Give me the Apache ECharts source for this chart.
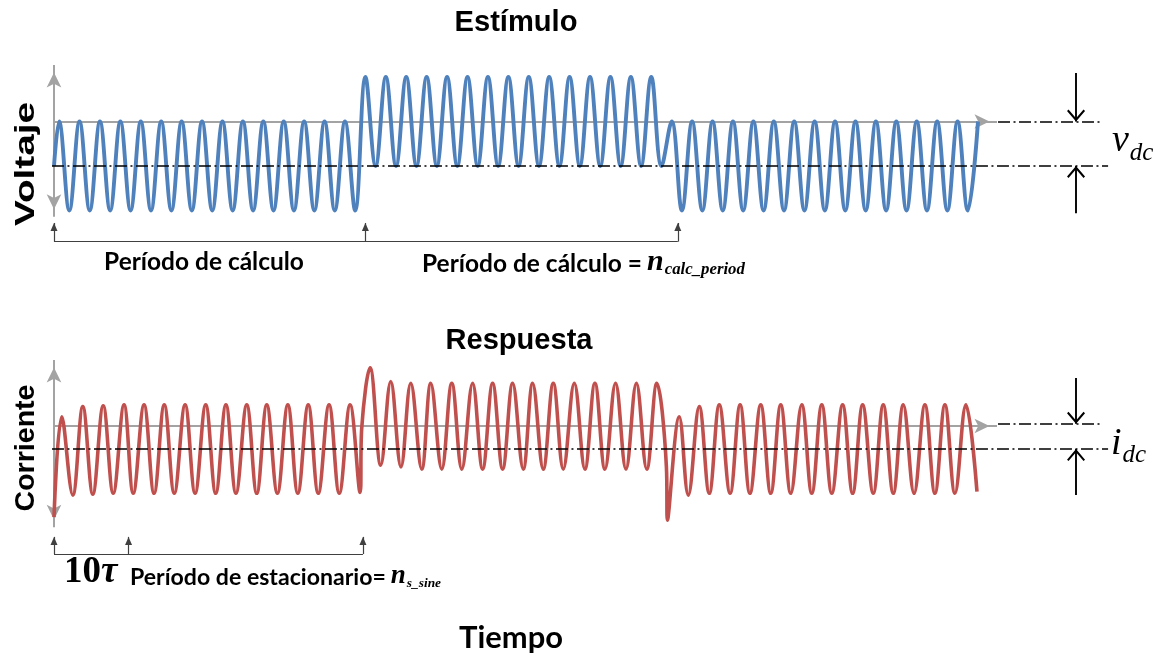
<!DOCTYPE html>
<html><head><meta charset="utf-8">
<script src="https://cdn.jsdelivr.net/npm/echarts@6/dist/echarts.min.js"></script>
<style>html,body{margin:0;padding:0;background:#fff}#c{width:1158px;height:655px}</style>
</head><body><div id="c"></div>
<script>
// ---- Stimulus (voltage), time in cycles, value in units of the AC amplitude (vdc = 1) ----
const stimStart = [[0, -1]];
const stimSeg1T = [0.25,0.75,1.25,1.75,2.25,2.75,3.25,3.75,4.25,4.75,5.25,5.75,6.25,6.75,7.25,7.75,8.25,8.75,9.25,9.75,10.25,10.75,11.25,11.75,12.25,12.75,13.25,13.75,14.25,14.75];
const stimSeg1V = [0,-2,0,-2,0,-2,0,-2,0,-2,0,-2,0,-2,0,-2,0,-2,0,-2,0,-2,0,-2,0,-2,0,-2,0,-2];
const stimSeg2T = [15.25,15.75,16.25,16.75,17.25,17.75,18.25,18.75,19.25,19.75,20.25,20.75,21.25,21.75,22.25,22.75,23.25,23.75,24.25,24.75,25.25,25.75,26.25,26.75,27.25,27.75,28.25,28.75,29.25,29.75];
const stimSeg2V = [1,-1,1,-1,1,-1,1,-1,1,-1,1,-1,1,-1,1,-1,1,-1,1,-1,1,-1,1,-1,1,-1,1,-1,1,-1];
const stimSeg3T = [30.25,30.75,31.25,31.75,32.25,32.75,33.25,33.75,34.25,34.75,35.25,35.75,36.25,36.75,37.25,37.75,38.25,38.75,39.25,39.75,40.25,40.75,41.25,41.75,42.25,42.75,43.25,43.75,44.25,44.75,45.25];
const stimSeg3V = [0,-2,0,-2,0,-2,0,-2,0,-2,0,-2,0,-2,0,-2,0,-2,0,-2,0,-2,0,-2,0,-2,0,-2,0,-2,0];

// ---- Response (current) ----
const respSeg1T = [0,0.38,0.92,1.41,1.90,2.41,2.90,3.43,3.88,4.41,4.90,5.40,5.89,6.42,6.91,7.43,7.92,8.42,8.91,9.44,9.93,10.42,10.94,11.45,11.94,12.45,12.94,13.47,13.97,14.50,14.99,15.07];
const respSeg1V = [-2.07,0.21,-1.57,0.44,-1.55,0.46,-1.53,0.48,-1.53,0.48,-1.53,0.48,-1.53,0.48,-1.53,0.48,-1.53,0.48,-1.53,0.48,-1.53,0.48,-1.53,0.48,-1.53,0.48,-1.53,0.48,-1.53,0.48,-1.51,-0.05];
const respSeg2T = [15.48,16.00,16.49,16.99,17.47,18.01,18.45,18.99,19.48,19.97,20.50,20.99,21.48,21.97,22.46,22.98,23.44,23.96,24.45,24.94,25.48,26.00,26.49,26.98,27.50,28.01,28.52,29.03,29.52,29.99,30.04];
const respSeg2V = [1.32,-0.89,1.01,-0.93,0.97,-0.98,0.97,-0.98,0.97,-0.98,0.97,-0.98,0.97,-0.98,0.97,-0.98,0.97,-0.98,0.97,-0.98,0.97,-0.98,0.97,-0.98,0.97,-0.98,0.97,-0.98,0.97,-0.93,-2.14];
const respSeg3T = [30.62,31.06,31.60,32.09,32.58,33.11,33.60,34.08,34.61,35.10,35.59,36.08,36.62,37.11,37.60,38.09,38.62,39.11,39.60,40.12,40.61,41.10,41.59,42.12,42.65,43.14,43.63,44.12,44.66,45.20];
const respSeg3V = [0.21,-1.57,0.44,-1.53,0.48,-1.53,0.48,-1.53,0.48,-1.53,0.48,-1.53,0.48,-1.53,0.48,-1.53,0.48,-1.53,0.48,-1.53,0.48,-1.53,0.48,-1.53,0.48,-1.53,0.48,-1.53,0.48,-1.49];

// ---- annotation values ----
const calcPeriodTicks = [0, 15.25, 30.55];   // starts of calculation periods
const steadyTicks = [0, 3.65, 15.13];        // 10 tau, steady-state period end
const stimLevels = { zero: 0, dc: -1 };
const respLevels = { zero: 0, dcTop: 0.05, dc: -0.523 };
const dcMarkerT = 50.05;

function pairs(ts, vs) { return ts.map((t, i) => [t, vs[i]]); }
const stimData = stimStart.concat(pairs(stimSeg1T, stimSeg1V), pairs(stimSeg2T, stimSeg2V), pairs(stimSeg3T, stimSeg3V));
const respData = [].concat(pairs(respSeg1T, respSeg1V), pairs(respSeg2T, respSeg2V), pairs(respSeg3T, respSeg3V));

const GRAY = '#a3a3a3';
const grayAxis = { color: GRAY, width: 2, type: 'solid' };
const dashDot = { color: '#000', width: 1.7, type: [12, 3.5, 2, 3.5] };
const bracket = { color: '#404040', width: 1.2, type: 'solid' };
const blackArrow = { color: '#000', width: 1.9, type: 'solid' };
const ARROW = { symbol: 'arrow', symbolSize: [11, 15], symbolOffset: [0, '50%'] };
const TRI = { symbol: 'triangle', symbolSize: [7, 8], symbolOffset: [0, '50%'] };
const CHEV = { symbol: 'path://M0,10 L9,0 L18,10 L16.5,11.3 L9,3 L1.5,11.3 Z', symbolSize: [18, 12], symbolOffset: [0, '50%'] };
const NONE = { symbol: 'none' };

function seg(a, b, style, sa, sb) {
  return [Object.assign({ coord: a, lineStyle: style }, sa || NONE), Object.assign({ coord: b }, sb || NONE)];
}

function axesMarks(yTop, yBot, xEnd) {
  return [
    seg([0, yTop], [0, yBot], grayAxis, ARROW, ARROW),
    seg([0, 0], [xEnd, 0], grayAxis, NONE, ARROW)
  ];
}

const topAnno = [
  seg([46.23, stimLevels.zero], [51.37, stimLevels.zero], dashDot),
  seg([-0.1, stimLevels.dc], [51.62, stimLevels.dc], dashDot),
  seg([dcMarkerT, 1.09], [dcMarkerT, stimLevels.zero], blackArrow, NONE, CHEV),
  seg([dcMarkerT, -2.06], [dcMarkerT, stimLevels.dc], blackArrow, NONE, CHEV),
  seg([calcPeriodTicks[0], -2.70], [calcPeriodTicks[2], -2.70], bracket)
].concat(calcPeriodTicks.map(t => seg([t, -2.70], [t, -2.28], bracket, NONE, TRI)));

const botAnno = [
  seg([46.23, respLevels.dcTop], [51.37, respLevels.dcTop], dashDot),
  seg([-0.1, respLevels.dc], [51.62, respLevels.dc], dashDot),
  seg([dcMarkerT, 1.09], [dcMarkerT, respLevels.dcTop], blackArrow, NONE, CHEV),
  seg([dcMarkerT, -1.57], [dcMarkerT, respLevels.dc], blackArrow, NONE, CHEV),
  seg([steadyTicks[0], -2.91], [steadyTicks[2], -2.91], bracket)
].concat(steadyTicks.map(t => seg([t, -2.91], [t, -2.52], bracket, NONE, TRI)));

function mark(data, z) {
  return { silent: true, z: z, symbol: ['none', 'none'], label: { show: false }, emphasis: { disabled: true }, animation: false, data: data };
}

// ---- text helpers ----
const SANS = '"Liberation Sans", Arial, sans-serif';
const CAL = 'Lato, "Open Sans", sans-serif';
const SERIF = '"Liberation Serif", "DejaVu Serif", serif';
const mctx = document.createElement('canvas').getContext('2d');
function tw(text, font) { mctx.font = font; return mctx.measureText(text).width; }
function fit(text, weight, fam, target) { return 100 * target / tw(text, weight + ' 100px ' + fam); }
function T(text, x, y, font, align, rot, sx) {
  return { type: 'text', x: x, y: y, rotation: rot || 0, scaleX: sx || 1, silent: true, z: 50,
    style: { text: text, font: font, fill: '#000', align: align || 'left', verticalAlign: 'middle', textAlign: align || 'left', textVerticalAlign: 'middle' } };
}
const g = [];
(function () {
  let s;
  s = fit('Estímulo', 'bold', SANS, 123); g.push(T('Estímulo', 516, 23, 'bold ' + s + 'px ' + SANS, 'center'));
  s = fit('Respuesta', 'bold', SANS, 147); g.push(T('Respuesta', 519, 341, 'bold ' + s + 'px ' + SANS, 'center'));
  s = fit('Tiempo', 'bold', CAL, 104); g.push(T('Tiempo', 511, 638, 'bold ' + s + 'px ' + CAL, 'center'));
  const sCor = fit('Corriente', 'bold', SANS, 127);
  g.push(T('Corriente', 26, 448, 'bold ' + sCor + 'px ' + SANS, 'center', Math.PI / 2));
  const fVol = 'bold ' + sCor + 'px ' + SANS;
  g.push(T('Voltaje', 26, 164, fVol, 'center', Math.PI / 2, 124 / tw('Voltaje', fVol)));

  const sc = fit('Período de cálculo', 'bold', CAL, 200);
  const fc = 'bold ' + sc + 'px ' + CAL;
  g.push(T('Período de cálculo', 204, 262, fc, 'center'));
  const t2 = 'Período de cálculo =';
  g.push(T(t2, 422, 264, fc));
  const fn = 'bold italic 30px ' + SERIF;
  let nx = 422 + tw(t2, fc) + 5;
  g.push(T('n', nx, 262, fn));
  let sx = nx + tw('n', fn) + 1;
  let ss = fit('calc_period', 'bold italic', SERIF, 745 - sx);
  g.push(T('calc_period', sx, 270, 'bold italic ' + ss + 'px ' + SERIF));

  const se = fit('Período de estacionario=', 'bold', CAL, 256);
  const fe = 'bold ' + se + 'px ' + CAL;
  g.push(T('Período de estacionario=', 130, 578, fe));
  const fn2 = 'bold italic 27px ' + SERIF;
  nx = 130 + tw('Período de estacionario=', fe) + 5;
  g.push(T('n', nx, 576, fn2));
  sx = nx + tw('n', fn2) + 1;
  ss = fit('s_sine', 'bold italic', SERIF, Math.max(20, 441 - sx));
  g.push(T('s_sine', sx, 584, 'bold italic ' + ss + 'px ' + SERIF));

  const s10 = fit('10τ', 'bold', SERIF, 54);
  const f10 = 'bold ' + s10 + 'px ' + SERIF;
  g.push(T('10', 64, 572, f10));
  g.push(T('τ', 64 + tw('10', f10), 572, 'bold italic ' + s10 + 'px ' + SERIF));

  const fv = 'italic 38px ' + SERIF, fd = 'italic 25px ' + SERIF;
  g.push(T('v', 1112, 141, fv));
  g.push(T('dc', 1112 + tw('v', fv) + 1, 153, fd));
  g.push(T('i', 1111, 444, fv));
  g.push(T('dc', 1111 + tw('i', fv) + 1, 455, fd));
})();

const PX = 20.42; // px per cycle (layout)
const gridLeft = 54 - PX;
const gridW = 55 * PX;

const option = {
  animation: false,
  backgroundColor: '#fff',
  grid: [
    { left: gridLeft, width: gridW, top: 121.5 - 1.6 * 44.5, height: 4.6 * 44.5 },
    { left: gridLeft, width: gridW, top: 426 - 1.75 * 44, height: 5 * 44 }
  ],
  xAxis: [
    { type: 'value', gridIndex: 0, min: -1, max: 54, show: false },
    { type: 'value', gridIndex: 1, min: -1, max: 54, show: false }
  ],
  yAxis: [
    { type: 'value', gridIndex: 0, min: -3, max: 1.6, show: false },
    { type: 'value', gridIndex: 1, min: -3.25, max: 1.75, show: false }
  ],
  graphic: g,
  series: [
    { type: 'line', xAxisIndex: 0, yAxisIndex: 0, data: [], z: 1, markLine: mark(axesMarks(1.27, -2.14, 46.18), 1) },
    { type: 'line', xAxisIndex: 1, yAxisIndex: 1, data: [], z: 1, markLine: mark(axesMarks(1.50, -2.30, 46.18), 1) },
    { type: 'line', name: 'Estímulo', xAxisIndex: 0, yAxisIndex: 0, data: stimData, smooth: 0.38, symbol: 'none', z: 3,
      lineStyle: { color: '#4F81BD', width: 3.9 }, itemStyle: { color: '#4F81BD' }, markLine: mark(topAnno, 5) },
    { type: 'line', name: 'Respuesta', xAxisIndex: 1, yAxisIndex: 1, data: respData, smooth: 0.38, symbol: 'none', z: 3,
      lineStyle: { color: '#C0504D', width: 3.6 }, itemStyle: { color: '#C0504D' }, markLine: mark(botAnno, 5) }
  ]
};
echarts.init(document.getElementById('c'), null, { renderer: 'canvas' }).setOption(option);
</script></body></html>
